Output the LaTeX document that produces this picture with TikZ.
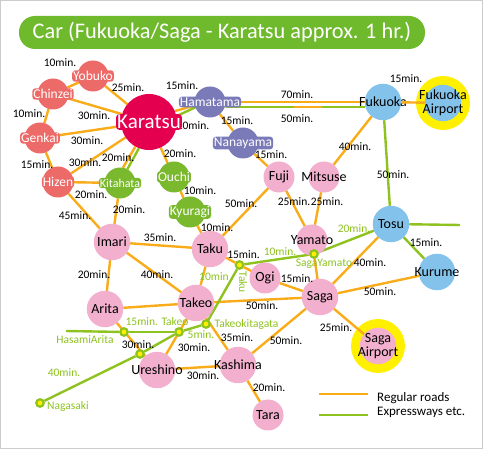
\documentclass[tikz,border=0pt]{standalone}
\usepackage{fontspec}
\setmainfont{Carlito}
\usetikzlibrary{backgrounds}
\definecolor{roadc}{HTML}{F9AC1A}
\definecolor{expc}{HTML}{8DC21F}
\definecolor{titlec}{HTML}{6FB92C}
\definecolor{pinkc}{HTML}{F2B0CE}
\definecolor{bluec}{HTML}{83C2EA}
\definecolor{redc}{HTML}{EC6A67}
\definecolor{greenc}{HTML}{7AB92E}
\definecolor{purplec}{HTML}{7A7AB8}
\definecolor{karatsuc}{HTML}{E4004F}
\definecolor{ringc}{HTML}{FFF000}
\tikzset{
	town/.style={circle, minimum size=#1, inner sep=0pt, outer sep=0pt},
	town/.default=36.5pt,
	namedark/.style={font=\fontsize{14}{14.5}\selectfont, align=center, inner sep=0pt},
	namehalo/.style={font=\fontsize{13.5}{14}\selectfont, text=white, fill=#1, rounded corners=3pt, inner sep=1pt},
	road/.style={roadc, line width=2.4pt},
	expway/.style={expc, line width=2.4pt},
	timelab/.style={font=\fontsize{11.5}{12}\selectfont, inner sep=0pt},
	explab/.style={timelab, text=expc},
	ic/.style={circle, draw=expc, fill=ringc, line width=2.2pt, minimum size=7.5pt, inner sep=0pt}
}

\begin{document}
\begin{tikzpicture}[x=1pt, y=-1pt]
	\useasboundingbox (0,0) rectangle (483,449);
	\draw[black!20, line width=1.5pt] (0.7,0.7) rectangle (482.3,448.3);
	\node[fill=titlec, rounded corners=16pt, minimum width=406pt, minimum height=33pt, inner sep=0pt, text=white,
		font=\fontsize{22.3}{24}\selectfont] (title) at (222,32.5) {Car (Fukuoka/Saga - Karatsu approx. 1 hr.)};
	\node[timelab] (tkh) at (193,126) {10min.};
	% towns
	\node[town=54pt, fill=ringc] (fukring) at (443,103) {};
	\node[town=54pt, fill=ringc] (sagaring) at (378,346) {};
	\foreach \n/\x/\y/\t in {imari/112/242/Imari, taku/210/249/Taku, arita/105/309/Arita, takeo/196/303/Takeo,
		ureshino/157/370/Ureshino, kashima/238/365/Kashima, saga/320/297/Saga, sagaair/378/346/{Saga\\Airport}}
		\node[town, fill=pinkc, label={[namedark]center:\t}] (\n) at (\x,\y) {};
	\foreach \n/\x/\y/\t in {tara/268/415/Tara, ogi/265/278/Ogi, yamato/312/240/Yamato, fuji/279/177/Fuji, mitsuse/324/177/Mitsuse}
		\node[town=31pt, fill=pinkc, label={[namedark]center:\t}] (\n) at (\x,\y) {};
	\foreach \n/\x/\y/\t in {fukuoka/383/102/Fukuoka, fukair/443/103/{Fukuoka\\Airport}, tosu/391/224/Tosu, kurume/437/272/Kurume}
		\node[town, fill=bluec, label={[namedark]center:\t}] (\n) at (\x,\y) {};
	\foreach \n/\x/\y/\t in {yobuko/93/76/Yobuko, chinzei/53/94/Chinzei, genkai/40/138/Genkai, hizen/58/182/Hizen}
		\node[town=31pt, fill=redc, label={[namehalo=redc]center:\t}] (\n) at (\x,\y) {};
	\foreach \n/\x/\y/\t in {kitahata/120/183/{\fontsize{12}{12}\selectfont Kitahata}, ouchi/174/177/Ouchi, kyuragi/190/212/Kyuragi}
		\node[town=31pt, fill=greenc, label={[namehalo=greenc]center:\t}] (\n) at (\x,\y) {};
	\foreach \n/\x/\y/\t in {hamatama/210/102/Hamatama, nanayama/243/143/Nanayama}
		\node[town=31pt, fill=purplec, label={[namehalo=purplec]center:\t}] (\n) at (\x,\y) {};
	\node[town=56pt, fill=karatsuc, label={[namehalo=karatsuc, font=\fontsize{21}{22}\selectfont]center:Karatsu}] (karatsu) at (149,122) {};
	% interchanges
	\foreach \n/\x/\y in {icyamato/314/254, ictaku/239.5/265, ickita/206/324, ictakeo/179/332, ichasami/124/332, icureshino/140/354, icnagasaki/40/403}
		\node[ic] (\n) at (\x,\y) {};
	\coordinate (hasamiend) at (66,331);
	\coordinate (tosuend) at (460,225);
	\coordinate (regl) at (319,394);
	\coordinate (regr) at (368,394);
	\coordinate (expl) at (319,415);
	\coordinate (expr) at (368,415);
	\coordinate (gapl) at (294,107);
	\coordinate (gapr) at (322,107);
	% airport roads sit on the yellow rings
	\draw[road] (fukuoka) -- (fukair);
	\draw[road] (saga) -- (sagaair);
	\begin{pgfonlayer}{background}
	% regular roads
	\foreach \a/\b in {yobuko/karatsu, yobuko/chinzei, chinzei/karatsu, chinzei/genkai, genkai/karatsu, genkai/hizen, hizen/karatsu,
		hizen/kitahata, hizen/imari, kitahata/imari, karatsu/ouchi, ouchi/kyuragi, kyuragi/taku, hamatama/nanayama, nanayama/fuji,
		fuji/taku, fuji/yamato, mitsuse/yamato, mitsuse/fukuoka, imari/taku, imari/arita, imari/takeo, taku/takeo,
		arita/takeo, arita/ureshino, takeo/saga, takeo/ureshino, takeo/kashima, ureshino/kashima, kashima/saga, kashima/tara,
		taku/ictaku, ictaku/ogi, ogi/saga, yamato/saga, saga/tosu, saga/kurume, regl/regr}
		\draw[road] (\a) -- (\b);
	\draw[road] (karatsu.23) -- (hamatama.193);
	\draw[road] (karatsu.-119) -- (kitahata.79);
	\draw[road] (hamatama.east) -- (fukuoka.west);
	% expressways
	\foreach \a/\b in {icnagasaki/icureshino, icureshino/ictakeo, ictakeo/ickita, ickita/ictaku, ictaku/icyamato, icyamato/tosu,
		tosu/tosuend, hasamiend/ichasami, ichasami/ictakeo, fukuoka/tosu, tosu/kurume, expl/expr}
		\draw[expway] (\a) -- (\b);
	\draw[expway] (karatsu.12) -- (hamatama.200);
	\draw[expway] (karatsu.-111) -- (kitahata.62);
	\draw[expway] ([yshift=-5pt]hamatama.east) -- ([yshift=-5pt]fukuoka.west);
	\draw[road] (gapl) -- (gapr);
	\end{pgfonlayer}
	% times
	\foreach \x/\y/\t [count=\i] in {60/63/10min., 128/88/25min., 182/86/15min., 29/114/10min., 94/116/30min., 87/141/30min.,
		118/158/20min., 180/154/20min., 85/163/30min., 37/165/15min., 91/195/20min., 75/216/45min., 129/210/20min., 200/191/10min.,
		241/204/50min., 217/228/10min., 237/121/15min., 271/155/15min., 297/95/70min., 297/119/50min., 406/79/15min., 355/147/40min.,
		393/175/50min., 294/202/25min., 327/202/25min., 160/238/35min., 94/275/20min., 157/275/40min., 138/345/30min., 194/348/30min.,
		203/376/30min., 237/338/35min., 243.5/255/15min., 297/279/15min., 370/263/40min., 426/243/15min., 380/292/50min., 262/306/50min.,
		286/341/50min., 336/328/25min., 269/388/20min.}
		\node[timelab] (t\i) at (\x,\y) {\t};
	\foreach \x/\y/\t [count=\i] in {280/252/10min., 354/229/20min., 324/264/SagaYamato, 214/277/10min, 157/322/15min. Takeo, 246.5/324/Takeokitagata,
		201/335/5min., 85/340/HasamiArita, 64/373/40min., 68/406/Nagasaki}
		\node[explab] (e\i) at (\x,\y) {\t};
	\node[explab, rotate=-90] (etaku) at (243,282) {Taku};
	% legend
	\node[timelab, anchor=west, font=\fontsize{13}{14}\selectfont] (reglab) at (377,398) {Regular roads};
	\node[timelab, anchor=west, font=\fontsize{13}{14}\selectfont] (explab) at (377,412) {Expressways etc.};
\end{tikzpicture}
\end{document}
